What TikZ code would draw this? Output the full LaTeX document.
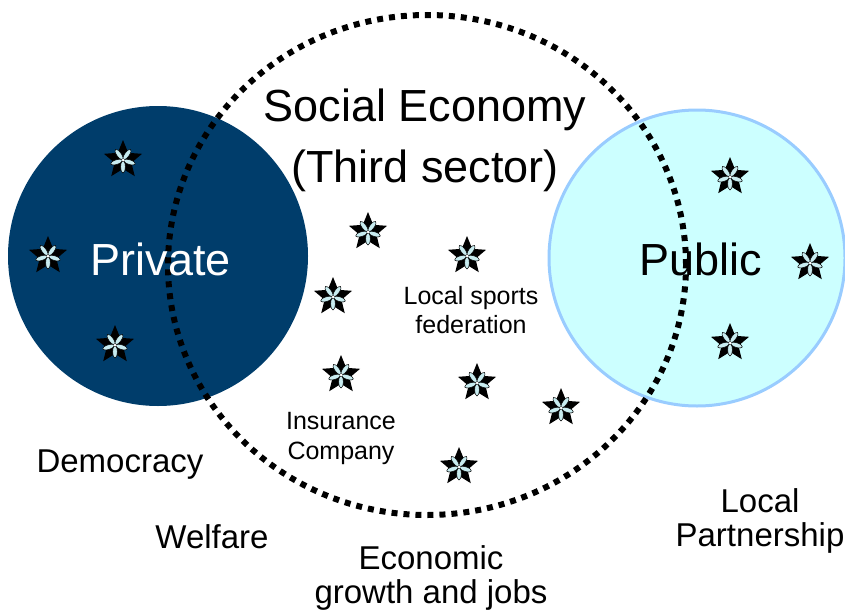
\documentclass[tikz,border=0pt]{standalone}
\usepackage{fontspec}
\setmainfont{Liberation Sans}
\usetikzlibrary{shapes.geometric}
\definecolor{privblue}{RGB}{0,61,107}
\definecolor{pubfill}{RGB}{204,255,255}
\definecolor{publine}{RGB}{153,204,255}
\definecolor{petalc}{RGB}{200,236,240}
\tikzset{
  sector/.style={circle, minimum size=300pt, inner sep=0pt},
  starnode/.style={star, star points=5, star point ratio=2.25, minimum size=40pt,
    inner sep=0pt, fill=black},
  petal/.style={fill=petalc, draw=black, line width=0.5pt},
  bigtext/.style={font=\fontsize{45}{61}\selectfont, align=center, inner sep=0pt},
  midtext/.style={font=\fontsize{33}{34}\selectfont, align=center, inner sep=0pt},
  smalltext/.style={font=\fontsize{25}{29}\selectfont, align=center, inner sep=0pt},
  dotring/.style={draw=black, line width=6pt, dash pattern=on 6pt off 6pt}
}
\begin{document}
\begin{tikzpicture}[x=1pt, y=-1pt]
\useasboundingbox (0,0) rectangle (845,610);
\node[sector, fill=privblue] (private) at (158,256) {};
\node[sector, fill=pubfill, draw=publine, line width=3pt, minimum size=296pt] (public) at (697,258) {};
\node[ellipse, dotring, minimum width=518pt, minimum height=500pt, inner sep=0pt] (social) at (427,265) {};

\node[bigtext] (setitle) at (425,140) {Social Economy\\(Third sector)};
\node[bigtext, text=white] (privlabel) at (161,259) {Private};
\node[bigtext] (publabel) at (701,259) {Public};

\node[smalltext] (sports) at (471,310) {Local sports\\federation};
\node[font=\fontsize{25}{30}\selectfont, align=center, inner sep=0pt] (insur) at (341,438) {Insurance\\Company};

\node[midtext] (democ) at (120,465) {Democracy};
\node[midtext] (welf) at (212,537) {Welfare};
\node[midtext] (econ) at (431,578) {Economic\\growth and jobs};
\node[midtext] (partner) at (760,521) {Local\\Partnership};

\node[starnode] (s1) at (123,160) {};
\node[starnode] (s2) at (48,256) {};
\node[starnode] (s3) at (115,345) {};
\node[starnode] (s4) at (368,232) {};
\node[starnode] (s5) at (467,256) {};
\node[starnode] (s6) at (333,297) {};
\node[starnode] (s7) at (341,375) {};
\node[starnode] (s8) at (477,383) {};
\node[starnode] (s9) at (561,408) {};
\node[starnode] (s10) at (459,467) {};
\node[starnode] (s11) at (730,177) {};
\node[starnode] (s12) at (810,263) {};
\node[starnode] (s13) at (730,343) {};

\foreach \s in {s1,s2,s3,s4,s5,s6,s7,s8,s9,s10,s11,s12,s13} {
  \begin{scope}[shift={(\s.center)}]
    \foreach \a in {270,342,54,126,198}
      \path[petal, rotate=\a] (6.8,0) ellipse (6.2 and 2.3);
    \fill[white] (0,0) circle (1.5);
  \end{scope}
}
\end{tikzpicture}
\end{document}
